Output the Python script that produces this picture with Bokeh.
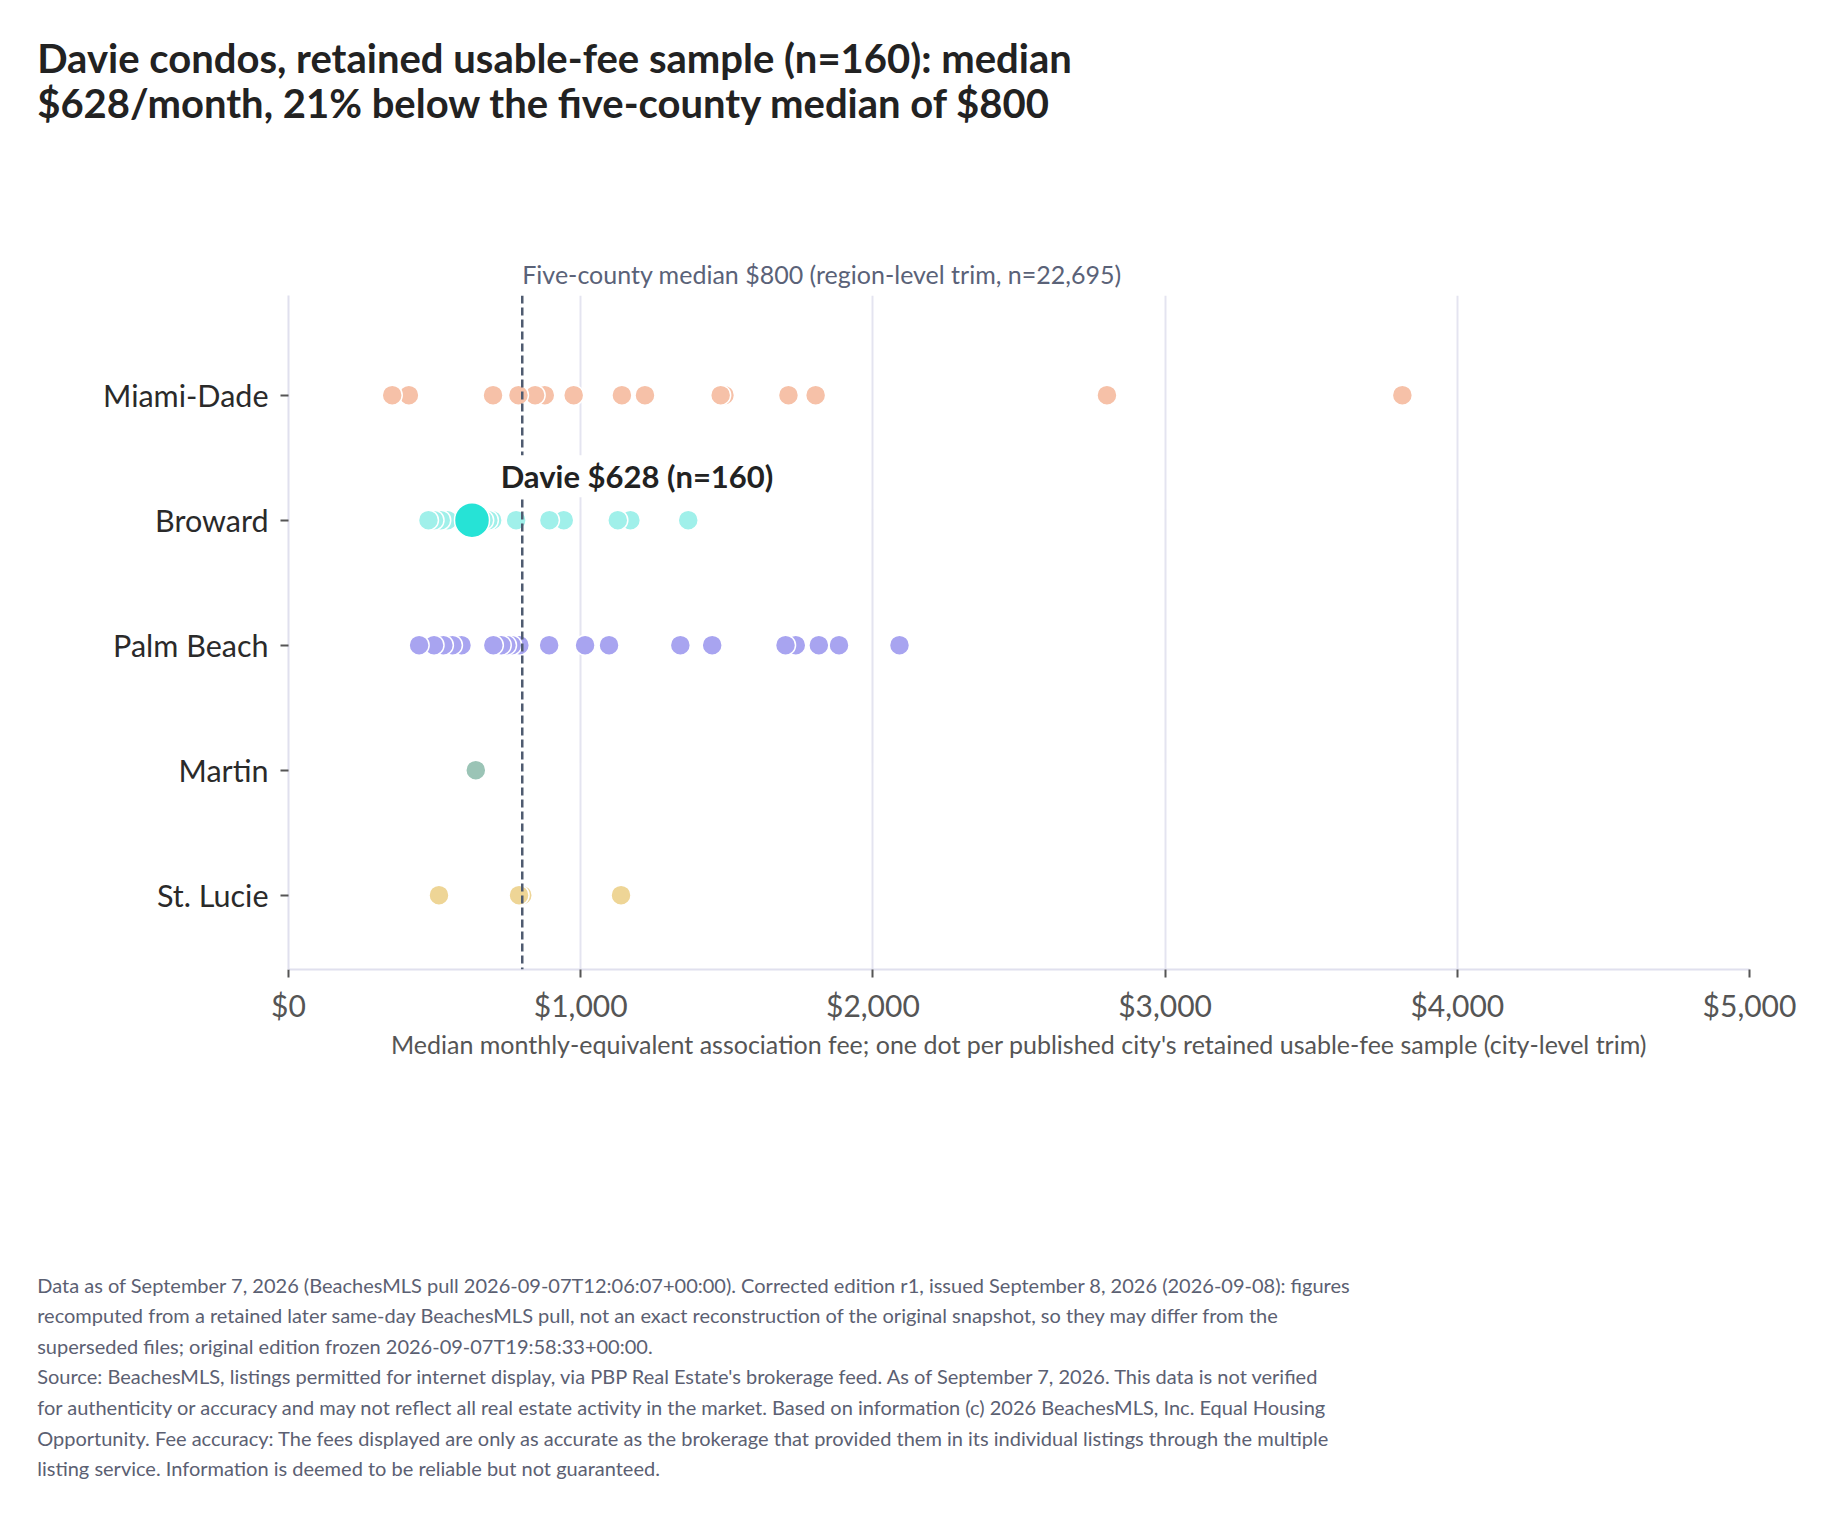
from bokeh.plotting import figure
from bokeh.layouts import column
from bokeh.models import Label, Span, FixedTicker, NumeralTickFormatter, Range1d, ColumnDataSource
from bokeh.core.properties import value
from bokeh.embed import file_html
from bokeh.resources import INLINE

# ---------------- data ----------------
counties = ["Miami-Dade", "Broward", "Palm Beach", "Martin", "St. Lucie"]
county_colors = ["#F6C1A8", "#A0F0EA", "#A8A4F0", "#9BC4B6", "#EED596"]

miami_dade = [355, 412, 700, 787, 844, 877, 976, 1141, 1220, 1479, 1492, 1711, 1804, 2801, 3812]
broward = [479, 498, 521, 544, 668, 684, 697, 779, 893, 942, 1127, 1170, 1368]
palm_beach = [447, 498, 530, 561, 592, 701, 728, 746, 764, 790, 892, 1015, 1097,
              1341, 1450, 1701, 1736, 1815, 1884, 2091]
martin = [641]
st_lucie = [515, 789, 800, 1138]

davie_fee = 628
davie_n = 160
davie_county = "Broward"
davie_color = "#26E3D6"

region_median = 800
region_n = "22,695"

x_min, x_max = 0, 5000
x_ticks = [0, 1000, 2000, 3000, 4000, 5000]

title_lines = [
    "Davie condos, retained usable-fee sample (n=160): median",
    "$628/month, 21% below the five-county median of $800",
]
x_axis_label = ("Median monthly-equivalent association fee; one dot per published "
                "city's retained usable-fee sample (city-level trim)")
footer_lines = [
    "Data as of September 7, 2026 (BeachesMLS pull 2026-09-07T12:06:07+00:00). Corrected edition r1, issued September 8, 2026 (2026-09-08): figures",
    "recomputed from a retained later same-day BeachesMLS pull, not an exact reconstruction of the original snapshot, so they may differ from the",
    "superseded files; original edition frozen 2026-09-07T19:58:33+00:00.",
    "Source: BeachesMLS, listings permitted for internet display, via PBP Real Estate's brokerage feed. As of September 7, 2026. This data is not verified",
    "for authenticity or accuracy and may not reflect all real estate activity in the market. Based on information (c) 2026 BeachesMLS, Inc. Equal Housing",
    "Opportunity. Fee accuracy: The fees displayed are only as accurate as the brokerage that provided them in its individual listings through the multiple",
    "listing service. Information is deemed to be reliable but not guaranteed.",
]

series = [miami_dade, broward, palm_beach, martin, st_lucie]
row_of = {c: len(counties) - 1 - i for i, c in enumerate(counties)}

xs, ys, cols = [], [], []
for c, vals, col in zip(counties, series, county_colors):
    for v in sorted(vals, reverse=True):
        xs.append(v)
        ys.append(row_of[c])
        cols.append(col)
src = ColumnDataSource(dict(fee=xs, row=ys, color=cols))

# ---------------- layout constants ----------------
FONT = "Lato"
W = 1814
BL, BR = 288, 65          # main plot left/right borders
FW = W - BL - BR          # frame width
HEADER_H = 295
FH = 674
BB = 110
FOOTER_H = 1500 - HEADER_H - FH - BB


def blank(height):
    f = figure(width=W, height=height, output_backend="svg", toolbar_location=None,
               x_range=Range1d(0, W), y_range=Range1d(height, 0),
               x_axis_location=None, y_axis_location=None,
               min_border_left=0, min_border_right=0, min_border_top=0, min_border_bottom=0)
    f.frame_align = False
    f.grid.visible = False
    f.outline_line_color = None
    f.background_fill_color = "white"
    f.border_fill_color = "white"
    return f


# ---------------- header ----------------
hdr = blank(HEADER_H)
# fee scale aligned with the main plot's frame
hdr.extra_x_ranges = {"fee": Range1d(x_min - BL * (x_max - x_min) / FW,
                                     x_max + (W - BL - FW) * (x_max - x_min) / FW)}
hdr.text(x=[36.7, 36.7], y=[57, 102], text=title_lines, text_font=value(FONT),
         text_font_size="40px", text_font_style="bold", text_color="#222222",
         text_align="left", text_baseline="alphabetic")
hdr.text(x=[region_median], y=[273], x_range_name="fee",
         text=[f"Five-county median ${region_median} (region-level trim, n={region_n})"],
         text_font=value(FONT), text_font_size="25px", text_color="#5A6278",
         text_align="left", text_baseline="alphabetic")

# ---------------- main plot ----------------
p = figure(width=W, height=FH + BB, output_backend="svg", toolbar_location=None,
           x_range=Range1d(x_min, x_max), y_range=Range1d(-0.595, 4.797),
           min_border_left=BL, min_border_right=BR, min_border_top=0, min_border_bottom=BB)
p.frame_align = False
p.outline_line_color = None
p.background_fill_color = "white"
p.border_fill_color = "white"

p.xaxis.ticker = FixedTicker(ticks=x_ticks)
p.xaxis.formatter = NumeralTickFormatter(format="$0,0")
p.xaxis.axis_line_color = "#E0E0EE"
p.xaxis.axis_line_width = 2
p.xaxis.major_tick_line_color = "#555555"
p.xaxis.major_tick_line_width = 2
p.xaxis.major_tick_out = 8
p.xaxis.major_tick_in = 0
p.xaxis.minor_tick_line_color = None
p.xaxis.major_label_text_font = FONT
p.xaxis.major_label_text_font_size = "30px"
p.xaxis.major_label_text_color = "#555555"
p.xaxis.major_label_standoff = 9
p.xaxis.axis_label = x_axis_label
p.xaxis.axis_label_text_font = FONT
p.xaxis.axis_label_text_font_size = "25px"
p.xaxis.axis_label_text_font_style = "normal"
p.xaxis.axis_label_text_color = "#555555"
p.xaxis.axis_label_standoff = 3

p.yaxis.ticker = FixedTicker(ticks=[row_of[c] for c in counties])
p.yaxis.major_label_overrides = {row_of[c]: c for c in counties}
p.yaxis.axis_line_color = "#E0E0EE"
p.yaxis.axis_line_width = 2
p.yaxis.major_tick_line_color = "#555555"
p.yaxis.major_tick_line_width = 2
p.yaxis.major_tick_out = 8
p.yaxis.major_tick_in = 0
p.yaxis.minor_tick_line_color = None
p.yaxis.major_label_text_font = FONT
p.yaxis.major_label_text_font_size = "30.5px"
p.yaxis.major_label_text_color = "#2a2a2a"
p.yaxis.major_label_standoff = 12

p.xgrid.grid_line_color = "#E4E4F0"
p.xgrid.grid_line_width = 2
p.ygrid.grid_line_color = None

p.add_layout(Span(location=region_median, dimension="height", line_color="#4F5B70",
                  line_width=2.5, line_dash="8 4"))

p.scatter(x="fee", y="row", source=src, size=20, fill_color="color",
          line_color="white", line_width=1.5)
p.scatter(x=[davie_fee], y=[row_of[davie_county]], size=35, fill_color=davie_color,
          line_color="white", line_width=1.5)

p.add_layout(Label(x=davie_fee, y=row_of[davie_county], x_offset=165, y_offset=44,
                   text=f"Davie ${davie_fee} (n={davie_n})", text_align="center",
                   text_baseline="alphabetic", text_font=FONT, text_font_size="31px",
                   text_font_style="bold", text_color="#222222",
                   background_fill_color="white", padding=2))

# ---------------- footer ----------------
ftr = blank(FOOTER_H)
FOOTER_TOP = HEADER_H + FH + BB
ftr.text(x=[36.7] * len(footer_lines),
         y=[1284 - FOOTER_TOP + i * 30.65 for i in range(len(footer_lines))],
         text=footer_lines, text_font=value(FONT), text_font_size="20px",
         text_color="#5B6072", text_align="left", text_baseline="alphabetic")

layout = column(hdr, p, ftr, spacing=0)
open("out.html", "w").write(file_html(layout, INLINE))
